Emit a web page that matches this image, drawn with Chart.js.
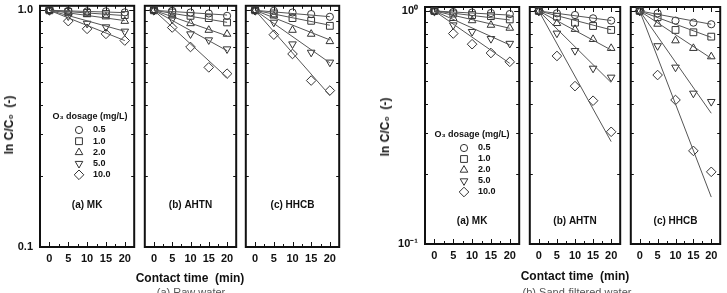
<!DOCTYPE html>
<html>
<head>
<meta charset="utf-8">
<script src="https://cdn.jsdelivr.net/npm/chart.js@4.4.1/dist/chart.umd.min.js"></script>
<style>
  body { margin: 0; width: 727px; height: 293px; overflow: hidden; background: #fff; position: relative;
         font-family: 'Liberation Sans', Arial, sans-serif; color: #111; }
  canvas { position: absolute; top: 0; }
  .txt { position: absolute; white-space: pre; transform: translate(-50%, -50%); line-height: 1; }
  .ytitle { font-weight: bold; font-size: 12px; transform: translate(-50%, -50%) rotate(-90deg); }
  .xtitle { font-weight: bold; font-size: 12px; }
  .caption { font-size: 11px; color: #555; }
</style>
</head>
<body>
<canvas id="rawMK"></canvas>
<canvas id="rawAHTN"></canvas>
<canvas id="rawHHCB"></canvas>
<canvas id="sandMK"></canvas>
<canvas id="sandAHTN"></canvas>
<canvas id="sandHHCB"></canvas>

<div class="txt ytitle" style="left:9px; top:125px;">ln C/C₀  (-)</div>
<div class="txt ytitle" style="left:385px; top:127px;">ln C/C₀  (-)</div>
<div class="txt xtitle" style="left:190px; top:278px;">Contact time  (min)</div>
<div class="txt xtitle" style="left:575px; top:276px;">Contact time  (min)</div>
<div class="txt caption" style="left:191px; top:292px;">(a) Raw water</div>
<div class="txt caption" style="left:577px; top:292px;">(b) Sand-filtered water</div>

<script>
// contact times and ozone dosages
const times = [0, 5, 10, 15, 20];
const dosages = ['0.5', '1.0', '2.0', '5.0', '10.0'];
const xTicks = [0, 5, 10, 15, 20];
const xMinorTicks = [2.5, 7.5, 12.5, 17.5];
const yMajorTicks = [0.1, 1];
const yMinorTicks = [0.2, 0.3, 0.4, 0.5, 0.6, 0.7, 0.8, 0.9];

// (a) raw water, C/C0 per dosage
const rawMK = [
    [1.0, 0.995, 0.99, 0.99, 0.98],
    [1.0, 0.985, 0.975, 0.965, 0.955],
    [1.0, 0.975, 0.96, 0.94, 0.90],
    [1.0, 0.945, 0.88, 0.85, 0.815],
    [1.0, 0.90, 0.835, 0.795, 0.745]
];
const rawAHTN = [
    [1.0, 0.995, 0.979, 0.97, 0.948],
    [1.0, 0.979, 0.948, 0.927, 0.889],
    [1.0, 0.948, 0.88, 0.825, 0.794],
    [1.0, 0.918, 0.794, 0.749, 0.686],
    [1.0, 0.846, 0.70, 0.574, 0.54]
];
const rawHHCB = [
    [1.0, 0.995, 0.979, 0.964, 0.939],
    [1.0, 0.97, 0.927, 0.903, 0.86],
    [1.0, 0.948, 0.825, 0.794, 0.739],
    [1.0, 0.889, 0.72, 0.664, 0.603],
    [1.0, 0.789, 0.654, 0.505, 0.458]
];
// fitted line value at 20 min
const rawMKFit = [0.978, 0.95, 0.905, 0.815, 0.745];
const rawAHTNFit = [0.955, 0.89, 0.78, 0.675, 0.52];
const rawHHCBFit = [0.94, 0.865, 0.75, 0.60, 0.437];

// (b) sand filtered water
const sandMK = [
    [1.0, 0.99, 0.985, 0.98, 0.97],
    [1.0, 0.975, 0.96, 0.95, 0.92],
    [1.0, 0.93, 0.91, 0.87, 0.845],
    [1.0, 0.87, 0.815, 0.76, 0.725],
    [1.0, 0.80, 0.72, 0.66, 0.605]
];
const sandAHTN = [
    [1.0, 0.977, 0.961, 0.93, 0.909],
    [1.0, 0.945, 0.891, 0.862, 0.829],
    [1.0, 0.885, 0.835, 0.756, 0.692],
    [1.0, 0.802, 0.675, 0.567, 0.519],
    [1.0, 0.641, 0.476, 0.412, 0.303]
];
const sandHHCB = [
    [1.0, 0.977, 0.909, 0.891, 0.877],
    [1.0, 0.94, 0.829, 0.81, 0.776],
    [1.0, 0.879, 0.746, 0.692, 0.637],
    [1.0, 0.708, 0.573, 0.443, 0.408],
    [1.0, 0.531, 0.415, 0.251, 0.204]
];
const sandMKFit = [0.96, 0.915, 0.843, 0.715, 0.596];
const sandAHTNFit = [0.91, 0.83, 0.68, 0.493, 0.275];
const sandHHCBFit = [0.877, 0.77, 0.626, 0.364, 0.159];

const FONT = "'Liberation Sans', Arial, sans-serif";
const markers = [
    { style: 'circle', rot: 0, r: 3.6 },
    { style: 'rect', rot: 0, r: 4.8 },
    { style: 'triangle', rot: 0, r: 4.4 },
    { style: 'triangle', rot: 180, r: 4.4 },
    { style: 'rectRot', rot: 0, r: 4.8 }
];

const groups = {
    raw: { top: 5, bottom: 247, yMax: 1.045, labelY: 205, yLabels: { 1: '1.0', 0.1: '0.1' },
           legend: { titleX: 50, titleY: 117, symX: 39, textX: 53, y0: 130, dy: 11.2 } },
    sand: { top: 7, bottom: 244, yMax: 1.04, labelY: 221, yLabels: { 1: '10⁰', 0.1: '10⁻¹' },
            legend: { titleX: 47, titleY: 135, symX: 39, textX: 53, y0: 148, dy: 11 } }
};

const panels = [
    { id: 'rawMK', group: 'raw', values: rawMK, fit: rawMKFit, label: '(a) MK', left: 0, yWidth: 40, padL: 0, plotW: 97, legend: true },
    { id: 'rawAHTN', group: 'raw', values: rawAHTN, fit: rawAHTNFit, label: '(b) AHTN', left: 139, yWidth: 0, padL: 3, plotW: 97 },
    { id: 'rawHHCB', group: 'raw', values: rawHHCB, fit: rawHHCBFit, label: '(c) HHCB', left: 240, yWidth: 0, padL: 3, plotW: 99 },
    { id: 'sandMK', group: 'sand', values: sandMK, fit: sandMKFit, label: '(a) MK', left: 370, yWidth: 55, padL: 0, plotW: 97, legend: true },
    { id: 'sandAHTN', group: 'sand', values: sandAHTN, fit: sandAHTNFit, label: '(b) AHTN', left: 524, yWidth: 0, padL: 3, plotW: 96 },
    { id: 'sandHHCB', group: 'sand', values: sandHHCB, fit: sandHHCBFit, label: '(c) HHCB', left: 625, yWidth: 0, padL: 3, plotW: 95 }
];

// frame box plus inward tick marks on all four sides
const framePlugin = {
    id: 'frame',
    beforeDatasetsDraw(chart) {
        const { ctx, chartArea: a, scales: { x, y } } = chart;
        ctx.save();
        ctx.strokeStyle = '#111';
        ctx.lineWidth = 1;
        ctx.beginPath();
        const vTick = (v, len) => {
            const px = Math.round(x.getPixelForValue(v)) + 0.5;
            ctx.moveTo(px, a.bottom); ctx.lineTo(px, a.bottom - len);
            ctx.moveTo(px, a.top); ctx.lineTo(px, a.top + len);
        };
        const hTick = (v, len) => {
            const py = Math.round(y.getPixelForValue(v)) + 0.5;
            ctx.moveTo(a.left, py); ctx.lineTo(a.left + len, py);
            ctx.moveTo(a.right, py); ctx.lineTo(a.right - len, py);
        };
        xTicks.forEach(v => vTick(v, 5));
        xMinorTicks.forEach(v => vTick(v, 3));
        yMajorTicks.forEach(v => hTick(v, 5));
        yMinorTicks.forEach(v => hTick(v, 3));
        ctx.stroke();
        ctx.lineWidth = 2;
        ctx.strokeRect(a.left, a.top, a.right - a.left, a.bottom - a.top);
        ctx.restore();
    }
};

// panel name and ozone dosage legend
const notePlugin = {
    id: 'notes',
    afterDatasetsDraw(chart, args, opts) {
        const { ctx, chartArea: a } = chart;
        ctx.save();
        ctx.fillStyle = '#111';
        ctx.textBaseline = 'middle';
        ctx.textAlign = 'center';
        ctx.font = 'bold 10px ' + FONT;
        ctx.fillText(opts.label, (a.left + a.right) / 2, opts.labelY);
        if (opts.legend) {
            const L = opts.legend;
            ctx.font = 'bold 9px ' + FONT;
            ctx.fillText('O₃ dosage (mg/L)', a.left + L.titleX, L.titleY);
            dosages.forEach((d, i) => {
                const ds = chart.data.datasets[dosages.length + i];
                const yy = L.y0 + i * L.dy;
                ctx.save();
                ctx.strokeStyle = '#333';
                ctx.fillStyle = 'rgba(0,0,0,0)';
                ctx.lineWidth = 1;
                Chart.helpers.drawPoint(ctx, { pointStyle: ds.pointStyle, rotation: ds.pointRotation,
                    radius: ds.pointRadius, borderWidth: 1 }, a.left + L.symX, yy);
                ctx.restore();
                ctx.textAlign = 'left';
                ctx.fillText(d, a.left + L.textX, yy);
            });
        }
        ctx.restore();
    }
};

function buildPanel(p) {
    const g = groups[p.group];
    const canvas = document.getElementById(p.id);
    const H = 270;
    canvas.width = p.yWidth + p.padL + p.plotW + 3;
    canvas.height = H;
    canvas.style.left = p.left + 'px';

    const datasets = [];
    // fitted first-order lines from the origin
    p.fit.forEach(end => {
        datasets.push({
            data: [{ x: 0, y: 1 }, { x: 20, y: end }],
            showLine: true, borderColor: '#555', borderWidth: 1, pointRadius: 0, fill: false
        });
    });
    p.values.forEach((vals, i) => {
        datasets.push({
            label: dosages[i],
            data: times.map((t, j) => ({ x: t, y: vals[j] })),
            showLine: false,
            pointStyle: markers[i].style,
            pointRotation: markers[i].rot,
            pointRadius: markers[i].r,
            pointBorderWidth: 1,
            borderColor: '#333',
            backgroundColor: 'rgba(0,0,0,0)'
        });
    });

    new Chart(canvas.getContext('2d'), {
        type: 'scatter',
        data: { datasets },
        options: {
            responsive: false,
            animation: false,
            devicePixelRatio: 1,
            layout: { padding: { left: p.padL, right: 3, top: g.top, bottom: 0 } },
            plugins: {
                legend: { display: false },
                tooltip: { enabled: false },
                notes: { label: p.label, labelY: g.labelY, legend: p.legend ? g.legend : null }
            },
            scales: {
                x: {
                    type: 'linear', min: -2.5, max: 22.5,
                    afterBuildTicks: s => { s.ticks = xTicks.map(v => ({ value: v })); },
                    afterFit: s => { s.height = H - g.bottom; s.paddingLeft = 0; s.paddingRight = 0; },
                    grid: { display: false, drawTicks: false },
                    border: { display: false },
                    ticks: { font: { family: FONT, size: 11, weight: 'bold' }, color: '#111', padding: 5, maxRotation: 0 }
                },
                y: {
                    type: 'logarithmic', min: 0.1, max: g.yMax,
                    display: p.yWidth > 0,
                    afterBuildTicks: s => { s.ticks = yMajorTicks.map(v => ({ value: v })); },
                    afterFit: s => { s.width = p.yWidth; s.paddingTop = 0; s.paddingBottom = 0; },
                    grid: { display: false, drawTicks: false },
                    border: { display: false },
                    ticks: {
                        font: { family: FONT, size: 11, weight: 'bold' }, color: '#111', padding: 7,
                        callback: v => g.yLabels[v] || ''
                    }
                }
            }
        },
        plugins: [framePlugin, notePlugin]
    });
}

panels.forEach(buildPanel);
</script>
</body>
</html>
